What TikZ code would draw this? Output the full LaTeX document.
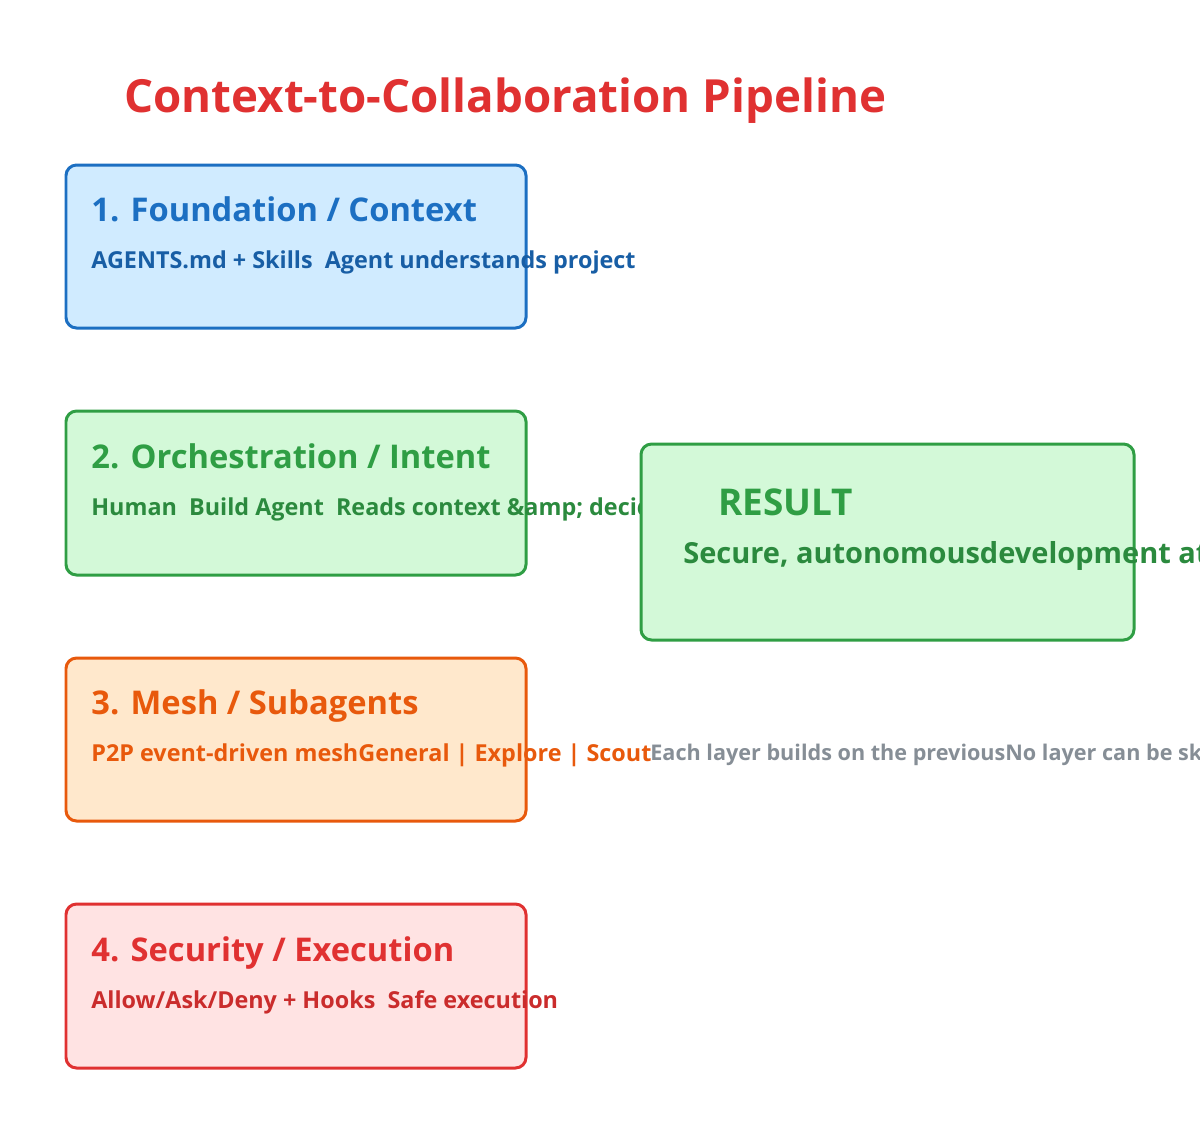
\documentclass[tikz,border=0pt]{standalone}
\usepackage{fontspec}
\setmainfont{Open Sans}
\definecolor{bluefg}{HTML}{1C6FC2}
\definecolor{bluebg}{HTML}{D0EBFF}
\definecolor{greenfg}{HTML}{2F9E44}
\definecolor{greendk}{HTML}{2B8A3E}
\definecolor{greenbg}{HTML}{D3F9D8}
\definecolor{orangefg}{HTML}{E8590C}
\definecolor{orangebg}{HTML}{FFE8CC}
\definecolor{redfg}{HTML}{E03131}
\definecolor{redbg}{HTML}{FFE3E3}
\definecolor{greyfg}{HTML}{868E96}
\tikzset{
  layer/.style={draw, line width=1.7pt, rounded corners=6pt},
  ltitle/.style={anchor=base west, inner sep=0, font=\fontsize{18.6}{20}\selectfont\bfseries},
  lsub/.style={anchor=base west, inner sep=0, font=\fontsize{13.3}{15}\selectfont\bfseries}
}
\begin{document}
\begin{tikzpicture}[x=0.02cm, y=-0.02cm]
  \useasboundingbox (0,0) rectangle (1200,1134);
  \clip (0,0) rectangle (1200,1134);
  \node[anchor=base west, inner sep=0, text=redfg, font=\fontsize{26}{30}\selectfont\bfseries] (title) at (124,112) {Context-to-Collaboration Pipeline};
  % layers
  \draw[layer, draw=bluefg, fill=bluebg] (66,165) rectangle (526,328);
  \draw[layer, draw=greenfg, fill=greenbg] (66,411) rectangle (526,575);
  \draw[layer, draw=orangefg, fill=orangebg] (66,658) rectangle (526,821);
  \draw[layer, draw=redfg, fill=redbg] (66,904) rectangle (526,1068);
  \node[ltitle, text=bluefg] (t1) at (91,221) {1. Foundation / Context};
  \node[lsub, text=bluefg!85!black] (s1) at (91,268) {AGENTS.md + Skills\ \ Agent understands project};
  \node[ltitle, text=greenfg] (t2) at (91,468) {2. Orchestration / Intent};
  \node[lsub, text=greendk] (s2) at (91,515) {Human \ Build Agent\ \ Reads context \&amp; decides};
  \node[ltitle, text=orangefg] (t3) at (91,714) {3. Mesh / Subagents};
  \node[lsub, text=orangefg] (s3) at (91,761) {P2P event-driven meshGeneral | Explore | Scout};
  \node[lsub, text=greyfg, font=\fontsize{12.3}{14}\selectfont\bfseries] (note) at (650,760) {Each layer builds on the previousNo layer can be skipped};
  \node[ltitle, text=redfg] (t4) at (91,961) {4. Security / Execution};
  \node[lsub, text=redfg!90!black] (s4) at (91,1008) {Allow/Ask/Deny + Hooks\ \ Safe execution};
  % result
  \draw[layer, draw=greenfg, fill=greenbg] (641,444) rectangle (1134,640);
  \node[anchor=base west, inner sep=0, text=greenfg, font=\fontsize{21}{24}\selectfont\bfseries] (res) at (718,515) {RESULT};
  \node[anchor=base west, inner sep=0, text=greendk, font=\fontsize{16.5}{18}\selectfont\bfseries] (ressub) at (683,563) {Secure, autonomousdevelopment at scale};
\end{tikzpicture}
\end{document}
